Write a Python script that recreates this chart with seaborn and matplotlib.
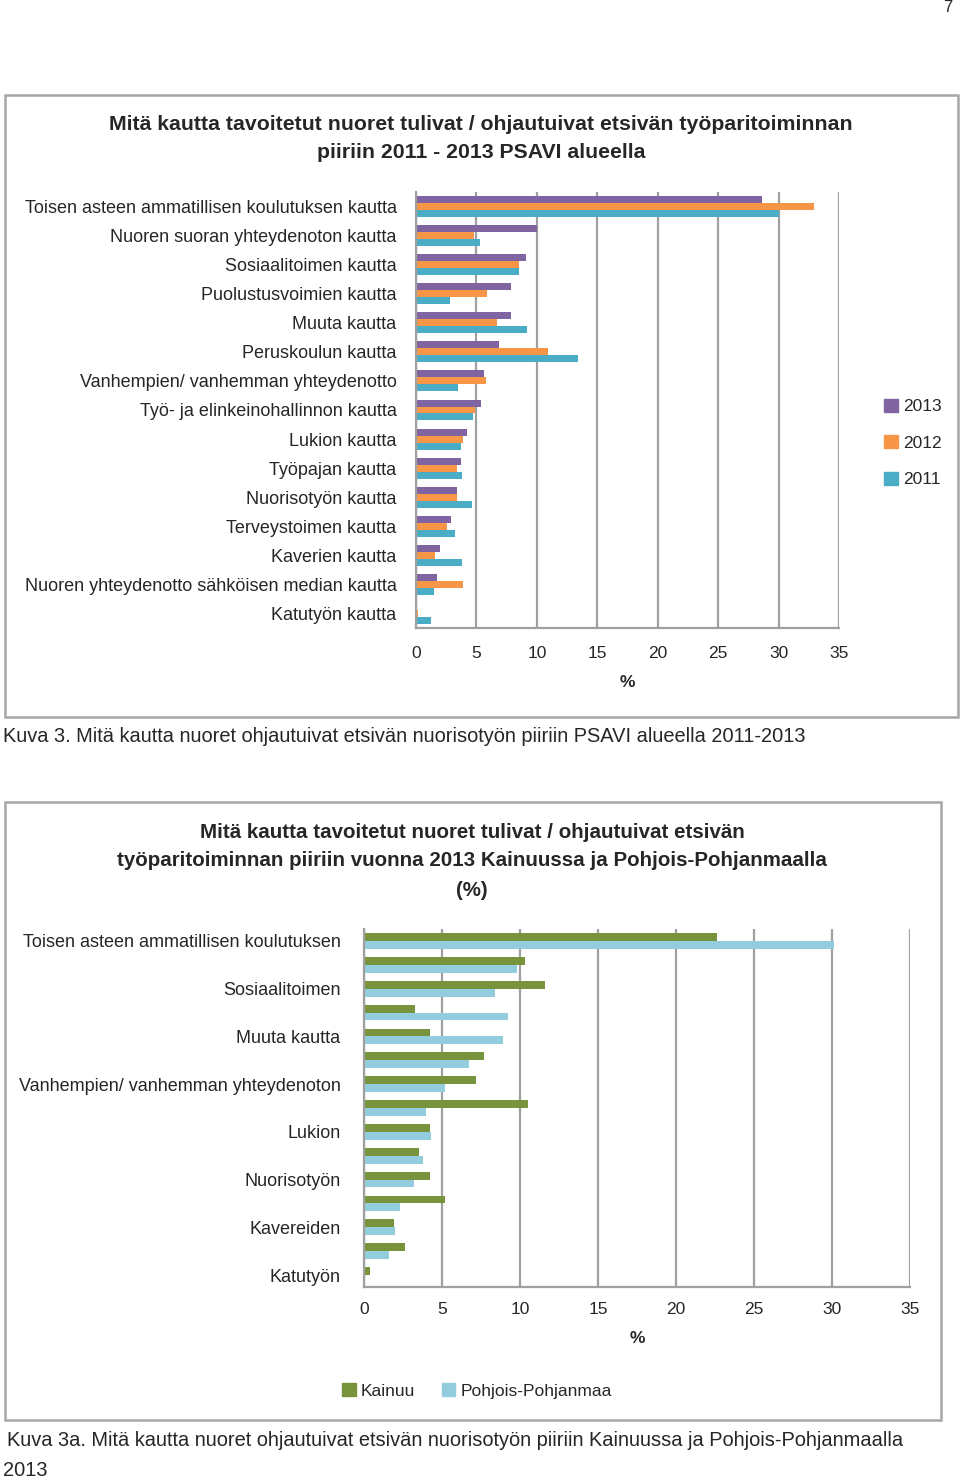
import pandas as pd
import seaborn as sns
import matplotlib.pyplot as plt
from matplotlib.patches import Rectangle, Patch

# Data
top_cats = ['Toisen asteen ammatillisen koulutuksen kautta', 'Nuoren suoran yhteydenoton kautta',
            'Sosiaalitoimen kautta', 'Puolustusvoimien kautta', 'Muuta kautta', 'Peruskoulun kautta',
            'Vanhempien/ vanhemman yhteydenotto', 'Työ- ja elinkeinohallinnon kautta', 'Lukion kautta',
            'Työpajan kautta', 'Nuorisotyön kautta', 'Terveystoimen kautta', 'Kaverien kautta',
            'Nuoren yhteydenotto sähköisen median kautta', 'Katutyön kautta']
v2013 = [28.6, 10.0, 9.1, 7.9, 7.9, 6.9, 5.6, 5.4, 4.2, 3.7, 3.4, 2.9, 2.0, 1.7, 0.1]
v2012 = [32.9, 4.8, 8.5, 5.9, 6.7, 10.9, 5.8, 4.9, 3.9, 3.4, 3.4, 2.6, 1.6, 3.9, 0.2]
v2011 = [30.0, 5.3, 8.5, 2.8, 9.2, 13.4, 3.5, 4.7, 3.7, 3.8, 4.6, 3.2, 3.8, 1.5, 1.2]
years = ['2013', '2012', '2011']

bot_cats = ['Toisen asteen ammatillisen koulutuksen', 'Nuoren suoran yhteydenoton', 'Sosiaalitoimen',
            'Puolustusvoimien', 'Muuta kautta', 'Peruskoulun', 'Vanhempien/ vanhemman yhteydenoton',
            'Työ- ja elinkeinohallinnon', 'Lukion', 'Työpajan', 'Nuorisotyön', 'Terveystoimen',
            'Kavereiden', 'Nuoren yhteydenotto sähköisen median', 'Katutyön']
kainuu = [22.6, 10.3, 11.6, 3.3, 4.2, 7.7, 7.2, 10.5, 4.2, 3.5, 4.2, 5.2, 1.9, 2.6, 0.4]
pohjois = [30.1, 9.8, 8.4, 9.2, 8.9, 6.7, 5.2, 4.0, 4.3, 3.8, 3.2, 2.3, 2.0, 1.6, 0.05]
regions = ['Kainuu', 'Pohjois-Pohjanmaa']

top_colors = ['#8064A2', '#F79646', '#4BACC6']
bot_colors = ['#77933C', '#93CDDD']
grid_c = '#a0a0a0'

df_top = pd.DataFrame({'cat': top_cats * 3, 'year': sum([[y] * 15 for y in years], []),
                       'value': v2013 + v2012 + v2011})
df_bot = pd.DataFrame({'cat': bot_cats * 2, 'region': sum([[r] * 15 for r in regions], []),
                       'value': kainuu + pohjois})

sns.set_style('white')
plt.rcParams['font.family'] = ['Liberation Sans', 'DejaVu Sans']

W, H = 960, 1480
fig = plt.figure(figsize=(9.6, 14.8), dpi=100)


def box(x0, y0, x1, y1):
    # pixel coords (top-left origin) -> figure fraction
    return [x0 / W, 1 - y1 / H, (x1 - x0) / W, (y1 - y0) / H]


def style_axes(ax):
    ax.set_xlim(0, 35)
    ax.set_xticks(range(0, 36, 5))
    ax.xaxis.grid(True, color=grid_c, lw=1.6)
    ax.yaxis.grid(False)
    ax.set_axisbelow(True)
    for s in ['top', 'right']:
        ax.spines[s].set_visible(False)
    for s in ['left', 'bottom']:
        ax.spines[s].set_color(grid_c)
        ax.spines[s].set_linewidth(1.6)
    n = 15
    ax.set_yticks([i + 0.5 for i in range(-1, n)], minor=True)
    ax.tick_params(axis='y', which='major', length=0, pad=14)
    ax.tick_params(axis='y', which='minor', length=5, color=grid_c, width=1.2, direction='out')
    ax.tick_params(axis='x', length=5, color=grid_c, width=1.2, direction='out', pad=8, labelsize=12.5)
    ax.set_ylabel('')
    ax.set_xlabel('%', fontsize=12.5, fontweight='bold', labelpad=10)


# frames
for (x0, y0, x1, y1) in [(5, 95, 958, 717), (5, 802, 941, 1420)]:
    fig.patches.append(Rectangle((x0 / W, 1 - y1 / H), (x1 - x0) / W, (y1 - y0) / H,
                                 transform=fig.transFigure, fill=False, ec='#a6a6a6', lw=1.8))

# top chart
ax1 = fig.add_axes(box(416, 192, 839, 628))
sns.barplot(data=df_top, x='value', y='cat', hue='year', hue_order=years, order=top_cats,
            palette=top_colors, saturation=1, width=0.72, linewidth=0, legend=False, ax=ax1)
style_axes(ax1)
ax1.set_yticks(range(15))
ax1.set_yticklabels(top_cats, fontsize=13)
ax1.legend(handles=[Patch(color=c, label=y) for c, y in zip(top_colors, years)],
           loc='center left', bbox_to_anchor=(868 / W, 1 - 443 / H), bbox_transform=fig.transFigure,
           frameon=False, fontsize=12.5, handlelength=0.8, handleheight=0.8, handletextpad=0.3,
           labelspacing=1.2)

fig.text(481 / W, 1 - 125 / H, 'Mitä kautta tavoitetut nuoret tulivat / ohjautuivat etsivän työparitoiminnan',
         ha='center', va='center', fontsize=15.3, fontweight='bold')
fig.text(481 / W, 1 - 153 / H, 'piiriin 2011 - 2013 PSAVI alueella',
         ha='center', va='center', fontsize=15.3, fontweight='bold')
fig.text(3 / W, 1 - 736 / H, 'Kuva 3. Mitä kautta nuoret ohjautuivat etsivän nuorisotyön piiriin PSAVI alueella 2011-2013',
         ha='left', va='center', fontsize=14.4)

# bottom chart
ax2 = fig.add_axes(box(364, 929, 910, 1287))
sns.barplot(data=df_bot, x='value', y='cat', hue='region', hue_order=regions, order=bot_cats,
            palette=bot_colors, saturation=1, width=0.66, linewidth=0, legend=False, ax=ax2)
style_axes(ax2)
ax2.set_yticks(range(15))
ax2.set_yticklabels([c if i % 2 == 0 else '' for i, c in enumerate(bot_cats)], fontsize=13)
ax2.tick_params(axis='y', which='major', pad=17)
ax2.tick_params(axis='x', pad=6)
ax2.xaxis.labelpad = 10
fig.legend(handles=[Patch(color=c, label=r) for c, r in zip(bot_colors, regions)],
           loc='center', bbox_to_anchor=(477 / W, 1 - 1391 / H), ncol=2, frameon=False,
           fontsize=12.5, handlelength=0.8, handleheight=0.8, handletextpad=0.3, columnspacing=1.5)

for yy, t in [(832, 'Mitä kautta tavoitetut nuoret tulivat / ohjautuivat etsivän'),
              (861, 'työparitoiminnan piiriin vuonna 2013 Kainuussa ja Pohjois-Pohjanmaalla'),
              (890, '(%)')]:
    fig.text(472 / W, 1 - yy / H, t, ha='center', va='center', fontsize=14.8, fontweight='bold')
fig.text(7 / W, 1 - 1440 / H,
         'Kuva 3a. Mitä kautta nuoret ohjautuivat etsivän nuorisotyön piiriin Kainuussa ja Pohjois-Pohjanmaalla',
         ha='left', va='center', fontsize=14.4)
fig.text(3 / W, 1 - 1470 / H, '2013', ha='left', va='center', fontsize=14.4)

fig.text(948 / W, 1 - 8 / H, '7', ha='center', va='center', fontsize=12)

fig.savefig('out.png', dpi=100)
